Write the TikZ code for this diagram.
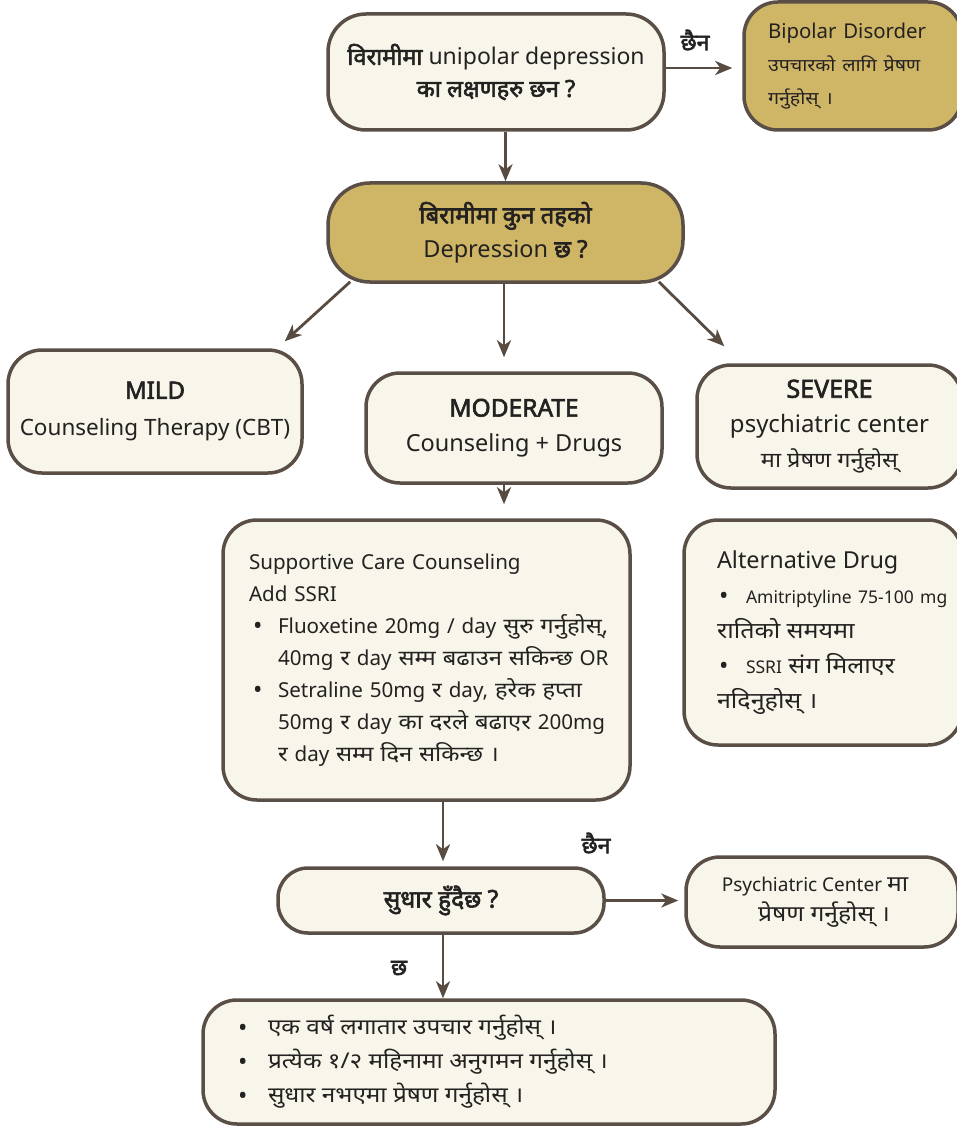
\documentclass[tikz,border=0pt]{standalone}
\usepackage{fontspec}
\setmainfont[AutoFakeBold=2.5]{Noto Sans}
\newfontfamily\dvf[Script=Devanagari,FakeStretch=1.12]{Noto Sans}
\newfontfamily\dvbf[Script=Devanagari,FakeBold=2.5]{Noto Sans}
\usetikzlibrary{arrows.meta,calc}
\definecolor{cream}{HTML}{F8F5EA}
\definecolor{gold}{HTML}{CFB666}
\definecolor{edge}{HTML}{5A4F47}
\definecolor{ink}{HTML}{242121}
\definecolor{arr}{HTML}{574B42}
\newcommand\fs[2]{\fontsize{#1}{#2}\selectfont}
\newcommand\myline[1]{\mbox{#1}}
\newcommand\dvs{19}
\newcommand\dvbs{23}
\newcommand\dv[1]{{\dvf\fontsize{\dvs}{\dvs}\selectfont #1}}
\newcommand\dvb[1]{{\dvbf\fontsize{\dvbs}{\dvbs}\selectfont #1}}
\newcommand\bul[2]{\hspace*{#1pt}\makebox[#2pt][l]{\raisebox{-1.5pt}{\fontsize{25}{25}\selectfont •}}}
\begin{document}
\begin{tikzpicture}[x=1pt,y=-1pt,
  box/.style={draw=edge, line width=3.5pt, rounded corners=34pt, fill=cream, text=ink, inner sep=0pt, align=center},
  goldbox/.style={box, fill=gold},
  conn/.style={draw=arr, line width=2.8pt, -{Stealth[length=17pt,width=14pt,inset=5pt]}},
  lbl/.style={font=\def\dvbs{23}, text=ink, inner sep=0pt}
]
\useasboundingbox (0,0) rectangle (957,1126);
\fill[white] (0,0) rectangle (957,1126);

\node[box, minimum width=336pt, minimum height=116pt, rounded corners=38pt, font=\fs{23}{32}\def\dvbs{23.5}] (q1) at (496,72)
  {\dvb{विरामीमा} unipolar depression\\\dvb{का लक्षणहरु छन ?}};

\node[goldbox, minimum width=218pt, minimum height=128pt, text width=170pt, align=left, font=\fs{20.4}{33}\def\dvs{17.5}] (bip) at (853,66)
  {\myline{Bipolar Disorder}\\\myline{\dv{उपचारको लागि प्रेषण}}\\\myline{\dv{गर्नुहोस् ।}}};

\node[goldbox, minimum width=355pt, minimum height=99pt, rounded corners=42pt, font=\fs{23.5}{34}\def\dvbs{24}] (lvl) at (505.5,232.5)
  {\dvb{बिरामीमा कुन तहको}\\Depression \dvb{छ ?}};

\node[box, minimum width=294pt, minimum height=123pt, font=\fs{22.5}{37}] (mild) at (155,411.5)
  {{\bfseries\fs{24}{37}MILD}\\Counseling Therapy (CBT)};

\node[box, minimum width=296pt, minimum height=110pt, font=\fs{23.5}{35}] (mod) at (514,428)
  {{\bfseries\fs{24.5}{35}MODERATE}\\Counseling + Drugs};

\node[box, minimum width=265pt, minimum height=123pt, font=\fs{24}{35}\def\dvs{21}] (sev) at (829.5,426.5)
  {{\bfseries\fs{25}{35}SEVERE}\\psychiatric center\\\dv{मा प्रेषण गर्नुहोस्}};

\node[box, minimum width=407pt, minimum height=280pt, text width=355pt, align=left, font=\fs{20.6}{32}\def\dvs{21.2}] (sup) at (426.5,660)
  {\myline{Supportive Care Counseling}\\
   \myline{Add SSRI}\\
   \myline{\bul{4}{25}Fluoxetine 20mg / day \dv{सुरु गर्नुहोस्,}}\\
   \myline{\hspace*{29pt}40mg \dv{र} day \dv{सम्म बढाउन सकिन्छ} OR}\\
   \myline{\bul{4}{25}Setraline 50mg \dv{र} day, \dv{हरेक हप्ता}}\\
   \myline{\hspace*{29pt}50mg \dv{र} day \dv{का दरले बढाएर} 200mg}\\
   \myline{\hspace*{29pt}\dv{र} day \dv{सम्म दिन सकिन्छ ।}}};

\node[box, minimum width=278pt, minimum height=225pt, text width=212pt, align=left, font=\fs{19}{35}\def\dvs{22.4}] (alt) at (823,632.5)
  {\myline{\fs{23.4}{35}Alternative Drug}\\
   \myline{\bul{2}{27}{\fs{17.5}{35}Amitriptyline 75-100 mg}}\\
   \myline{\dv{रातिको समयमा}}\\
   \myline{\bul{2}{27}{\fs{17.5}{35}SSRI} \dv{संग मिलाएर}}\\
   \myline{\dv{नदिनुहोस् ।}}};

\node[box, minimum width=326pt, minimum height=65pt, rounded corners=30pt, font=\def\dvbs{24.5}] (imp) at (441,900.5)
  {\dvb{सुधार हुँदैछ ?}};

\node[box, minimum width=272pt, minimum height=90pt, rounded corners=34pt, font=\fs{19}{30}\def\dvs{22}] (psy) at (822,902)
  {Psychiatric Center \dv{मा}\hspace*{14pt}\\\hspace*{4pt}\dv{प्रेषण गर्नुहोस् ।}};

\node[box, minimum width=572pt, minimum height=124pt, text width=502pt, align=left, font=\fs{19}{34}\def\dvs{21.7}] (fin) at (489,1062)
  {\myline{\bul{0}{30}\dv{एक वर्ष लगातार उपचार गर्नुहोस् ।}}\\
   \myline{\bul{0}{30}\dv{प्रत्येक १/२ महिनामा अनुगमन गर्नुहोस् ।}}\\
   \myline{\bul{0}{30}\dv{सुधार नभएमा प्रेषण गर्नुहोस् ।}}};

% connectors
\draw[conn, shorten >=10pt] (q1.east |- 0,68) -- (bip.west |- 0,68);
\node[lbl] (no1) at (695,40) {\dvb{छैन}};
\draw[conn] (q1.south -| lvl.north) -- (lvl.north);
\draw[conn] ($(lvl.south west)+(24,-2)$) -- ($(mild.north east)+(-19,-7)$);
\draw[conn, shorten >=14pt] (lvl.south -| 504,0) -- (mod.north -| 504,0);
\draw[conn] ($(lvl.south east)+(-26,-2)$) -- ($(sev.north west)+(29,-17)$);
\draw[conn, shorten >=14pt] (mod.south -| 504,0) -- (sup.north -| 504,0);
\draw[conn, shorten >=5pt] (sup.south -| 443,0) -- (imp.north -| 443,0);
\draw[conn, shorten >=6pt] (imp.east) -- (imp.east -| psy.west);
\node[lbl] (no2) at (596,843) {\dvb{छैन}};
\draw[conn] (imp.south -| 443,0) -- (fin.north -| 443,0);
\node[lbl] (yes) at (399,968) {\dvb{छ}};
\end{tikzpicture}
\end{document}
